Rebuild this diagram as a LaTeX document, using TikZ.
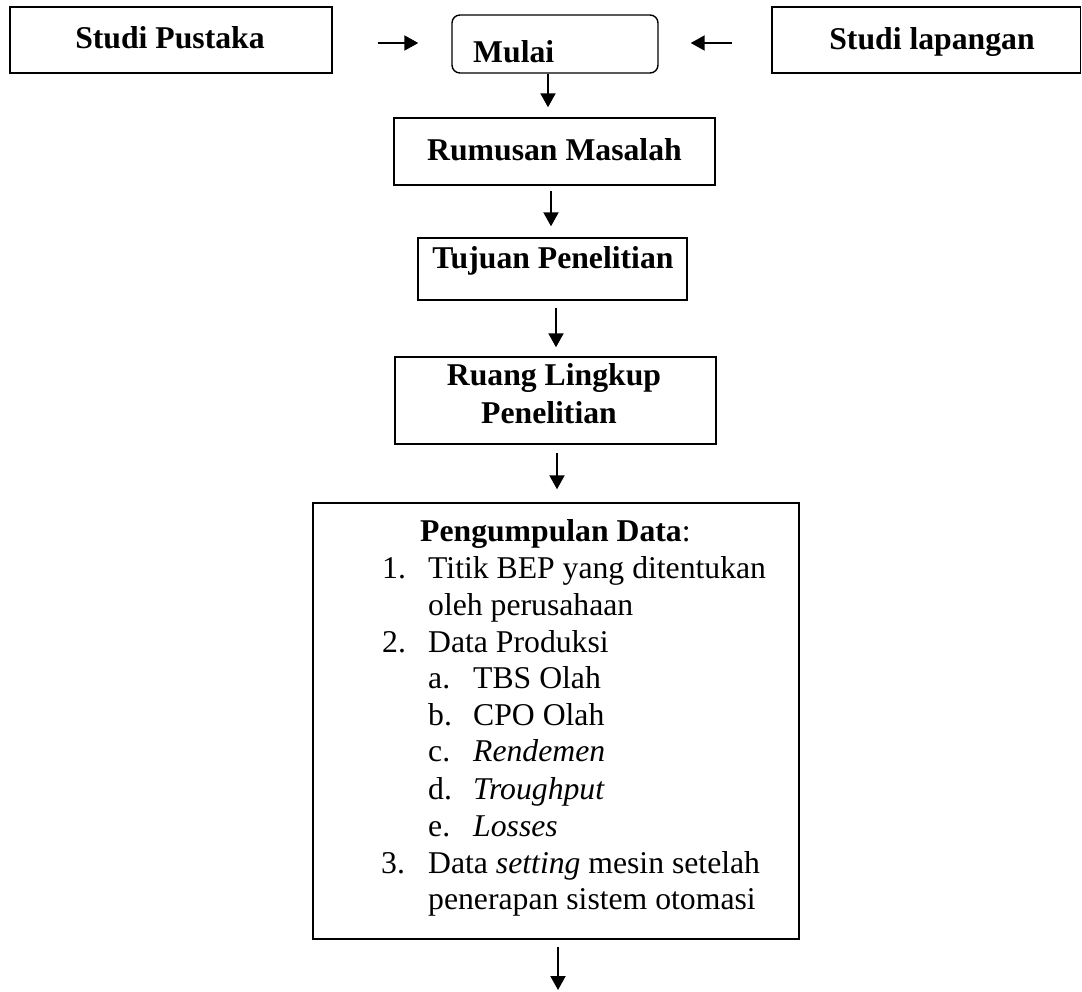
\documentclass[tikz,border=0pt]{standalone}
\usepackage{fontspec}
\setmainfont{Liberation Serif}
\usetikzlibrary{arrows.meta,calc}
\begin{document}
\begin{tikzpicture}[x=1pt,y=-1pt,
  box/.style={draw=black, line width=1.4pt, rectangle, inner sep=0pt},
  lbl/.style={anchor=base, inner sep=0pt, font=\fontsize{31.7}{36.7}\selectfont\bfseries},
  lblw/.style={anchor=base west, inner sep=0pt, font=\fontsize{31.7}{36.7}\selectfont\bfseries},
  txt/.style={anchor=base west, inner sep=0pt, font=\fontsize{31.7}{36.7}\selectfont},
  arr/.style={line width=2pt, -{Triangle[width=15pt,length=14pt]}}]
\useasboundingbox (0,0) rectangle (1082,991);

% boxes
\node[box, minimum width=322, minimum height=66] (sp) at (171,40) {};
\node[box, rounded corners=8pt, minimum width=206, minimum height=58] (mulai) at (555,44) {};
\node[box, minimum width=308.5, minimum height=66] (sl) at (926.25,40) {};
\node[box, minimum width=321, minimum height=67] (rm) at (554.5,151.5) {};
\node[box, minimum width=269, minimum height=62] (tp) at (552.5,269) {};
\node[box, minimum width=321, minimum height=87] (rl) at (555.5,400.5) {};
\node[box, minimum width=486, minimum height=436] (pd) at (556,721) {};

% labels
\node[lbl] (spt) at (170,48) {Studi Pustaka};
\node[lblw] (mut) at (473,62) {Mulai};
\node[lbl] (slt) at (932,49) {Studi lapangan};
\node[lbl] (rmt) at (554.5,160) {Rumusan Masalah};
\node[lbl] (tpt) at (553,268) {Tujuan Penelitian};
\node[lbl] (rlt1) at (554,385) {Ruang Lingkup};
\node[lbl] (rlt2) at (549,423) {Penelitian};

% list in Pengumpulan Data
\node[txt] (pdt) at (420,541.6) {\textbf{Pengumpulan Data}:};
\node[txt] (n1) at (382,578) {1.};
\node[txt] (i1a) at (428,578) {Titik BEP yang ditentukan};
\node[txt] (i1b) at (428,615) {oleh perusahaan};
\node[txt] (n2) at (382,652) {2.};
\node[txt] (i2) at (428,652) {Data Produksi};
\node[txt] (la) at (428,688) {a.};
\node[txt] (ia) at (473,688) {TBS Olah};
\node[txt] (lb) at (428,725) {b.};
\node[txt] (ib) at (473,725) {CPO Olah};
\node[txt] (lc) at (428,761) {c.};
\node[txt] (ic) at (473,761) {\textit{Rendemen}};
\node[txt] (ld) at (428,799) {d.};
\node[txt] (id) at (473,799) {\textit{Troughput}};
\node[txt] (le) at (428,836) {e.};
\node[txt] (ie) at (473,836) {\textit{Losses}};
\node[txt] (n3) at (381,873) {3.};
\node[txt] (i3a) at (428,873) {Data \textit{setting} mesin setelah};
\node[txt] (i3b) at (428,909) {penerapan sistem otomasi};

% connectors
\coordinate (endpt) at (558,990);
\draw[arr] ($(sp.east)+(45,3)$) -- ($(mulai.west)+(-33,-1)$);
\draw[arr] ($(sl.west)+(-39,3)$) -- ($(mulai.east)+(32,-1)$);
\draw[arr] ($(mulai.south)+(-7,0)$) -- ($(rm.north)+(-6.5,-10)$);
\draw[arr] ($(rm.south)+(-3.5,5)$) -- ($(tp.north)+(-1.5,-11)$);
\draw[arr] ($(tp.south)+(3.5,7)$) -- ($(rl.north)+(0.5,-9)$);
\draw[arr] ($(rl.south)+(1.5,8)$) -- ($(pd.north)+(1,-13)$);
\draw[arr] ($(pd.south)+(2,7)$) -- (endpt);
\end{tikzpicture}
\end{document}
